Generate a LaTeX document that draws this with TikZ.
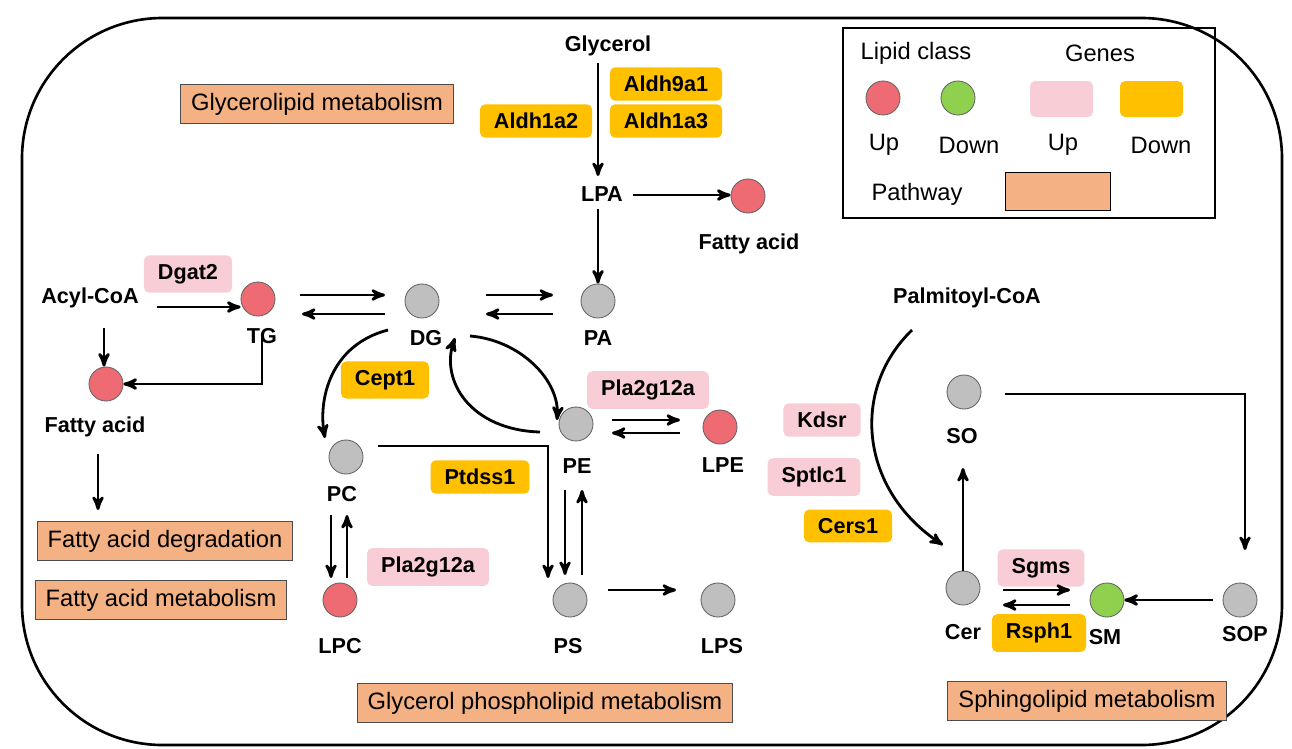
\documentclass[tikz,border=0pt]{standalone}
\usepackage{fontspec}
\setmainfont{Liberation Sans}
\usetikzlibrary{arrows}
\definecolor{upred}{HTML}{EE6B73}
\definecolor{downgreen}{HTML}{8FD14F}
\definecolor{gpink}{HTML}{F8CDD6}
\definecolor{gorange}{HTML}{FFC000}
\definecolor{ptan}{HTML}{F4B183}
\begin{document}
\begin{tikzpicture}[x=0.02cm,y=-0.02cm,->,>=stealth',line width=1.6pt,
  lipid/.style={circle,draw=black!60,line width=0.5pt,minimum size=0.68cm,inner sep=0pt},
  up node/.style={lipid,fill=upred},
  down node/.style={lipid,fill=downgreen},
  none node/.style={lipid,fill=black!25},
  lbl/.style={font=\fontsize{12.3}{14}\selectfont\bfseries},
  up gene/.style={fill=gpink,rounded corners=3pt,font=\fontsize{12.3}{14}\selectfont\bfseries,inner xsep=8pt,inner ysep=5pt},
  down gene/.style={fill=gorange,rounded corners=3pt,font=\fontsize{12.3}{14}\selectfont\bfseries,inner xsep=8pt,inner ysep=5pt},
  legend/.style={font=\fontsize{13.5}{16}\selectfont},
  pathway/.style={fill=ptan,draw=black!70,line width=0.5pt,font=\fontsize{13.5}{16}\selectfont,inner xsep=6pt,inner ysep=5pt}]
  \useasboundingbox (0,0) rectangle (1292,748);
  \draw[-,line width=1.5pt,rounded corners=80] (22,18) rectangle (1282,745);

  % legend
  \draw[-,line width=0.6pt] (843,28) rectangle (1215,218);
  \node[legend] at (916,53) {Lipid class};
  \node[legend] at (1100,53) {Genes};
  \node[up node] at (883,98) {};
  \node[down node] at (958,98) {};
  \fill[gpink,rounded corners=3pt] (1030,81) rectangle (1093,117);
  \fill[gorange,rounded corners=3pt] (1120,81) rectangle (1183,117);
  \node[legend] at (884,145) {Up};
  \node[legend] at (969,145) {Down};
  \node[legend] at (1063,145) {Up};
  \node[legend] at (1161,145) {Down};
  \node[legend] at (917,194) {Pathway};
  \draw[-,fill=ptan,line width=0.5pt] (1005,172) rectangle (1110,210);

  % glycerolipids
  \node[lbl] (glycerol) at (608,46) {Glycerol};
  \node[lbl] (lpa) at (602,194) {LPA};
  \node[up node] (fa1) at (748,196) {};
  \node[lbl] at (749,244) {Fatty acid};
  \node[down gene] at (666,84) {Aldh9a1};
  \node[down gene] at (666,121) {Aldh1a3};
  \node[down gene] at (536,121) {Aldh1a2};
  \node[pathway] at (317,104) {Glycerolipid metabolism};
  \node[lbl] (acyl) at (90,298) {Acyl-CoA};
  \node[up gene] at (188,274) {Dgat2};
  \node[up node] (tg) at (258,299) {};
  \node[lbl] at (262,336) {TG};
  \node[none node] (dg) at (422,301) {};
  \node[lbl] at (426,338) {DG};
  \node[none node] (pa) at (598,301) {};
  \node[lbl] at (598,338) {PA};
  \node[up node] (fa2) at (106,384) {};
  \node[lbl] (fa2l) at (95,427) {Fatty acid};
  \node[pathway] (fadeg) at (165,541) {Fatty acid degradation};
  \node[pathway] at (161,600) {Fatty acid metabolism};

  % phospholipids
  \node[down gene] at (385,380) {Cept1};
  \node[none node] (pe) at (576,424) {};
  \node[lbl] at (577,466) {PE};
  \node[up gene] at (648,390) {Pla2g12a};
  \node[up node] (lpe) at (720,427) {};
  \node[lbl] at (723,465) {LPE};
  \node[none node] (pc) at (346,457) {};
  \node[lbl] at (342,494) {PC};
  \node[down gene] at (480,477) {Ptdss1};
  \node[up node] (lpc) at (340,600) {};
  \node[lbl] at (340,646) {LPC};
  \node[up gene] at (428,567) {Pla2g12a};
  \node[none node] (ps) at (570,600) {};
  \node[lbl] at (568,646) {PS};
  \node[none node] (lps) at (718,600) {};
  \node[lbl] at (722,646) {LPS};
  \node[pathway] at (545,703) {Glycerol phospholipid metabolism};

  % sphingolipids
  \node[up gene] at (822,420) {Kdsr};
  \node[up gene] at (814,477) {Sptlc1};
  \node[down gene] at (848,526) {Cers1};
  \node[lbl] (palm) at (967,298) {Palmitoyl-CoA};
  \node[none node] (so) at (964,392) {};
  \node[lbl] at (962,436) {SO};
  \node[none node] (cer) at (963,588) {};
  \node[lbl] at (963,632) {Cer};
  \node[up gene] at (1041,568) {Sgms};
  \node[down node] (sm) at (1107,600) {};
  \node[lbl] at (1105,637) {SM};
  \node[down gene] at (1039,633) {Rsph1};
  \node[none node] (sop) at (1240,600) {};
  \node[lbl] at (1245,634) {SOP};
  \node[pathway] at (1087,701) {Sphingolipid metabolism};

  % reactions
  \draw (glycerol.south -| 598,0) -- (598,176);
  \draw (633,195) -- (fa1.west |- 0,195);
  \draw (lpa.south -| 598,0) -- (pa.north);
  \draw (157,307) -- (tg.west |- 0,307);
  \draw (300,295) -- (385,295);
  \draw (385,314) -- (302,314);
  \draw (486,295) -- (553,295);
  \draw (553,314) -- (486,314);
  \draw (104,328) -- (fa2.north -| 104,0);
  \draw (tg.south -| 262,0) ++(0,20) -- (262,384) -- (fa2.east);
  \draw (fa2l.south -| 98,0) ++(0,10) -- (98,510);
  \draw (388,330) .. controls (330,345) and (318,400) .. (325,438);
  \draw (470,336) .. controls (520,340) and (560,380) .. (557,420);
  \draw (540,432) .. controls (470,430) and (440,380) .. (455,338);
  \draw (612,420) -- (680,420);
  \draw (680,433) -- (612,433);
  \draw (pc.east) ++(15,-11) -- (548,446) -- (548,578);
  \draw (565,490) -- (565,575);
  \draw (582,575) -- (582,490);
  \draw (608,590) -- (676,590);
  \draw (331,515) -- (331,578);
  \draw (347,578) -- (347,515);
  \draw (912,330) .. controls (850,390) and (860,490) .. (943,545);
  \draw (cer.north) -- (963,468);
  \draw (1005,394) -- (1245,394) -- (1245,550);
  \draw (sop.west) ++(-10,0) -- (sm.east);
  \draw (1003,590) -- (1070,590);
  \draw (1070,605) -- (1003,605);
\end{tikzpicture}
\end{document}
